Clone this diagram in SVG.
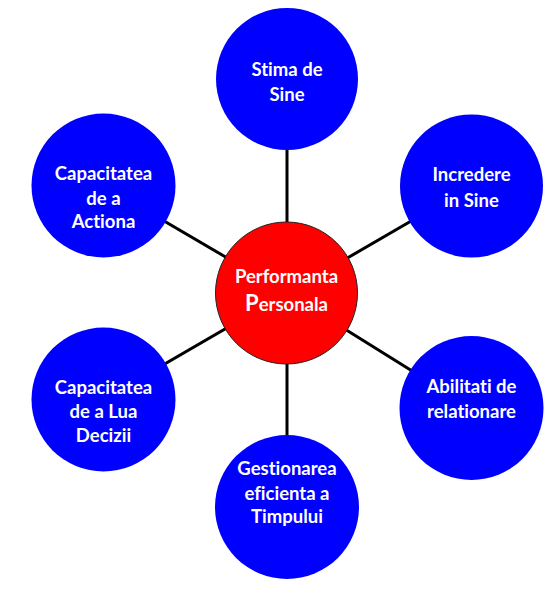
<svg xmlns="http://www.w3.org/2000/svg" width="556" height="596" viewBox="0 0 556 596">
<style>
.n{fill:#0000FF;}
.c{fill:#FF0000;stroke:#222;stroke-width:1;}
.t{fill:#fff;font-family:Lato,"Liberation Sans",sans-serif;font-weight:bold;font-size:18.5px;text-anchor:middle;font-variant-ligatures:none;font-feature-settings:"liga" 0;}
.l{stroke:#000;stroke-width:3;}
</style>
<rect width="556" height="596" fill="#fff"/>
<g id="connectors">
<line class="l" x1="287" y1="293" x2="287" y2="79"/>
<line class="l" x1="287" y1="293" x2="471.5" y2="186"/>
<line class="l" x1="287" y1="293" x2="471.5" y2="408"/>
<line class="l" x1="287" y1="293" x2="287" y2="507"/>
<line class="l" x1="287" y1="293" x2="103.5" y2="399.5"/>
<line class="l" x1="287" y1="293" x2="103.5" y2="185.5"/>
</g>
<g id="stima">
<circle class="n" cx="287" cy="79" r="71"/>
<text class="t" x="287" y="76">Stima de</text>
<text class="t" x="287" y="101">Sine</text>
</g>
<g id="incredere">
<circle class="n" cx="471.5" cy="186" r="71.5"/>
<text class="t" x="471.5" y="181">Incredere</text>
<text class="t" x="471.5" y="207">in Sine</text>
</g>
<g id="abilitati">
<circle class="n" cx="471.5" cy="408" r="72"/>
<text class="t" x="471.5" y="393">Abilitati de</text>
<text class="t" x="471.5" y="418">relationare</text>
</g>
<g id="gestionarea">
<circle class="n" cx="287" cy="507" r="72"/>
<text class="t" x="287" y="475">Gestionarea</text>
<text class="t" x="287" y="500">eficienta a</text>
<text class="t" x="287" y="523">Timpului</text>
</g>
<g id="decizii">
<circle class="n" cx="103.5" cy="399.5" r="72"/>
<text class="t" x="103.5" y="394">Capacitatea</text>
<text class="t" x="103.5" y="418">de a Lua</text>
<text class="t" x="103.5" y="442">Decizii</text>
</g>
<g id="actiona">
<circle class="n" cx="103.5" cy="185.5" r="72"/>
<text class="t" x="103.5" y="180">Capacitatea</text>
<text class="t" x="103.5" y="205">de a</text>
<text class="t" x="103.5" y="228">Actiona</text>
</g>
<g id="performanta">
<circle class="c" cx="286.5" cy="293" r="71"/>
<text class="t" x="286.5" y="283">Performanta</text>
<text class="t" x="286.5" y="311"><tspan font-size="22px">P</tspan>ersonala</text>
</g>
</svg>
